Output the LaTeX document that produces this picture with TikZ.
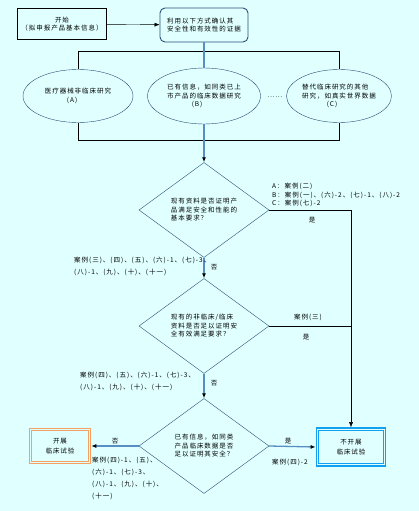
\documentclass[tikz,border=0pt]{standalone}
\usepackage{fontspec}
\newfontfamily\cjk[LetterSpace=15]{Noto Sans CJK SC}
\usetikzlibrary{shapes.geometric,arrows.meta,positioning,backgrounds}
\definecolor{bgcyan}{RGB}{224,255,255}
\definecolor{linkblue}{RGB}{88,142,196}
\definecolor{edgeblue}{RGB}{40,80,120}
\definecolor{boxorange}{RGB}{244,160,96}
\definecolor{boxblue}{RGB}{20,160,240}

\begin{document}
\begin{tikzpicture}[x=1pt,y=-1pt,% pixel units, y pointing down
        font={\cjk\fontsize{6.5}{8.5}\selectfont},
        startbox/.style={draw, minimum width=89pt, minimum height=31pt, align=center, inner sep=1pt},
        methodbox/.style={draw=edgeblue, line width=0.9pt, rounded corners=5pt, minimum width=88pt, minimum height=34pt, align=left, inner sep=1pt},
        oval/.style={ellipse, draw=edgeblue, minimum width=110pt, minimum height=53pt, align=left, inner sep=0pt},
        question/.style={diamond, draw=edgeblue, aspect=1.38, minimum width=130pt, minimum height=95pt, align=left, inner sep=0pt},
        endbox/.style={draw, line width=1.6pt, align=center, inner sep=1pt},
        blink/.style={draw=linkblue, line width=1.3pt},
        tip/.style={-{Latex[black,length=5pt,width=4pt]}},
        cases/.style={align=left, inner sep=0pt, font={\cjk\fontsize{6.5}{12}\selectfont}}]

\useasboundingbox[fill=bgcyan] (0,0) rectangle (419,511);

% top row
\node[startbox] (start) at (62,24) {开始\\（拟申报产品基本信息）};
\node[methodbox] (method) at (204,25) {利用以下方式确认其\\安全性和有效性的证据};
\draw[tip] (start) -- (method);

% the three ways
\node[oval] (wayA) at (78,96) {医疗器械非临床研究\\\hspace*{3.4em}(A)};
\node[oval, minimum width=113pt, minimum height=56pt] (wayB) at (204,96) {已有信息，如同类已上\\市产品的临床数据研究\\\hspace*{3.8em}(B)};
\node[oval, minimum width=105pt] (wayC) at (339,96) {替代临床研究的其他\\研究，如真实世界数据\\\hspace*{3.8em}(C)};
\node (dots) at (275,97) {……};

\draw (wayA.north) -- ++(0,-18) -| (wayC.north);
\draw (wayA.south) -- ++(0,17) -| (wayC.south);
\draw[blink] (method) -- (wayB);

% questions
\node[question] (askA) at (204,210) {现有资料是否证明产\\品满足安全和性能的\\基本要求？};
\node[question] (askB) at (204,326) {现有的非临床/临床\\资料是否足以证明安\\全有效满足要求？};
\node[question] (askC) at (204,446) {已有信息，如同类\\产品临床数据是否\\足以证明其安全？};

\node[endbox, draw=boxorange, minimum width=61pt, minimum height=35pt] (study) at (60,446) {开展\\[2pt]临床试验};
\draw[boxorange, line width=0.9pt] ([shift={(3pt,-3pt)}]study.north west) rectangle ([shift={(-3pt,3pt)}]study.south east);
\node[endbox, draw=boxblue, minimum width=69pt, minimum height=38pt] (nostudy) at (351,447) {不开展\\[2pt]临床试验};
\draw[boxblue, line width=0.7pt] ([shift={(3pt,-3pt)}]nostudy.north west) rectangle ([shift={(-3pt,3pt)}]nostudy.south east);

% connectors
\draw[blink, tip] (wayB) -- (askA);
\draw[blink, tip] (askA) -- (askB);
\draw[blink, tip] (askB) -- (askC);
\draw[tip] (askA.east) -| (nostudy.north);
\draw (askB.east) -- (askB.east -| nostudy.north);
\draw[blink, tip] (askC.west) -- (study.east);
\draw[blink, tip] (askC.east) -- (nostudy.west);

% answers and cases
\node[align=left, inner sep=0pt, anchor=north west] (casesA) at (272,183) {A：案例(二)\\B：案例(一)、(六)-2、(七)-1、(八)-2\\C：案例(七)-2};
\node (yesA) at (312,220) {是};
\node (noA) at (214,267) {否};
\node[cases, anchor=north west] (casesNoA) at (74,257) {案例(三)、(四)、(五)、(六)-1、(七)-3、\\(八)-1、(九)、(十)、(十一)};
\node (caseYesB) at (308,317) {案例(三)};
\node (yesB) at (306,337) {是};
\node (noB) at (214,383) {否};
\node[cases, anchor=north west] (casesNoB) at (80,372) {案例(四)、(五)、(六)-1、(七)-3、\\(八)-1、(九)、(十)、(十一)};
\node (noC) at (115,441) {否};
\node (yesC) at (288,441) {是};
\node[cases, anchor=north west] (casesNoC) at (92,457) {案例(四)-1、(五)、\\(六)-1、(七)-3、\\(八)-1、(九)、(十)、\\(十一)};
\node (caseYesC) at (290,462) {案例(四)-2};

\end{tikzpicture}
\end{document}
